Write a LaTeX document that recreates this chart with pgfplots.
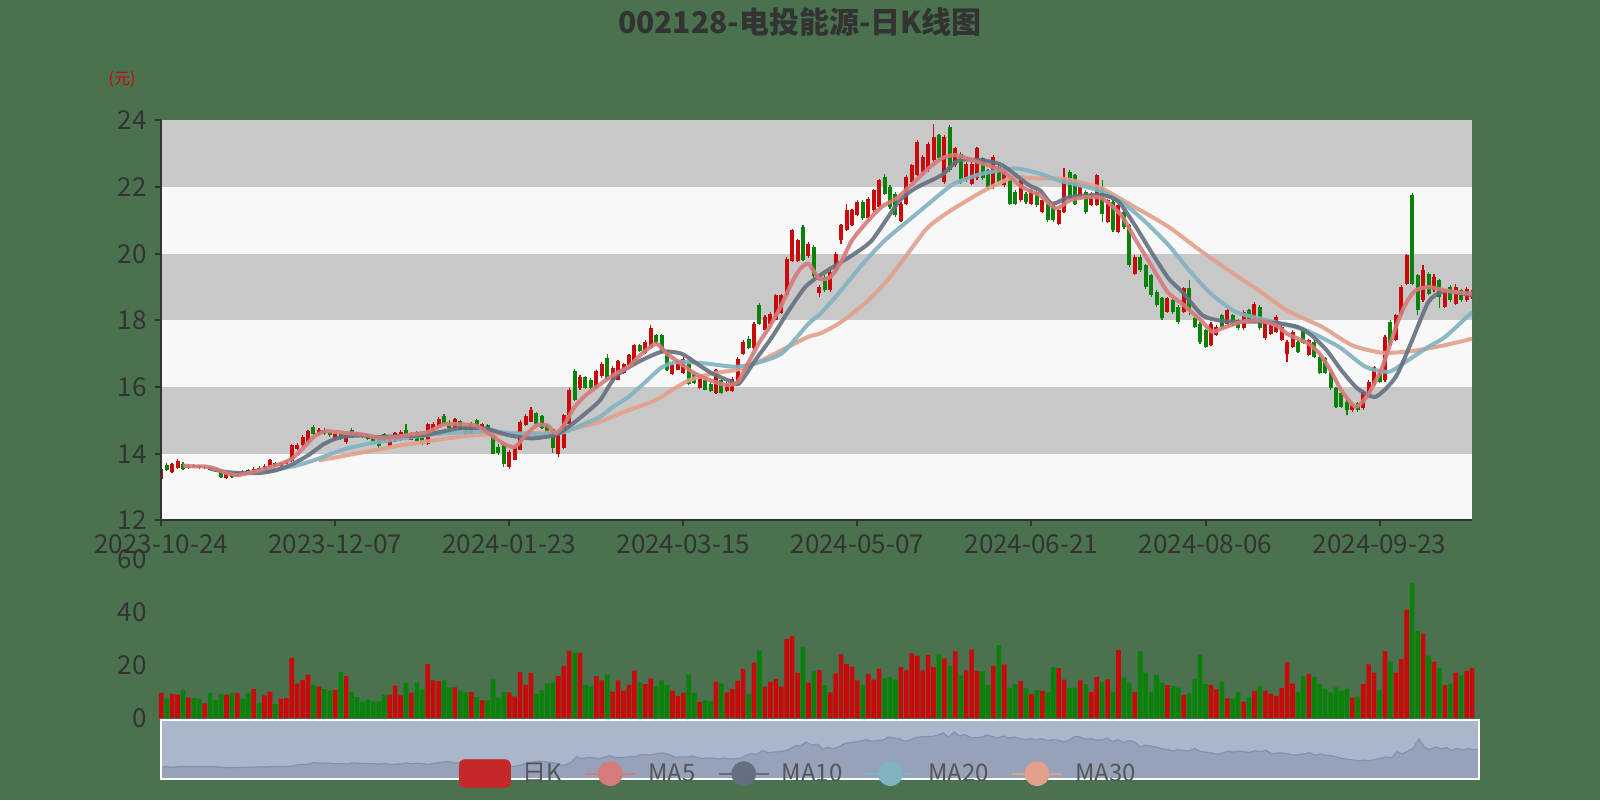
\documentclass[border=0pt]{standalone}
\usepackage{pgfplots}
\pgfplotsset{compat=1.18}
\usepackage{pgfplotstable}
\usepackage{fontspec}
\setmainfont{Noto Sans CJK SC}
\definecolor{bgc}{RGB}{74,114,78}
\definecolor{bandg}{RGB}{200,200,200}
\definecolor{bandw}{RGB}{248,248,248}
\definecolor{upc}{RGB}{200,10,10}
\definecolor{dnc}{RGB}{10,130,10}
\definecolor{ma5c}{RGB}{214,122,122}
\definecolor{ma10c}{RGB}{100,112,128}
\definecolor{ma20c}{RGB}{128,178,192}
\definecolor{ma30c}{RGB}{226,160,138}
\definecolor{txtc}{RGB}{51,51,51}
\definecolor{legtxt}{RGB}{85,85,85}
\definecolor{sldbg}{RGB}{170,182,204}
\definecolor{sldarea}{RGB}{150,162,186}
\definecolor{sldline}{RGB}{132,145,170}
\definecolor{legred}{RGB}{196,40,40}

\pgfplotstableread{
i o c h l v
0 13.25 13.55 13.62 13.12 9.5
1 13.67 13.52 13.72 13.48 7.3
2 13.45 13.68 13.72 13.42 9.1
3 13.57 13.79 13.84 13.55 8.8
4 13.70 13.55 13.74 13.52 10.6
5 13.58 13.63 13.68 13.55 7.7
6 13.65 13.60 13.70 13.57 7.5
7 13.62 13.58 13.66 13.55 7.3
8 13.56 13.60 13.64 13.53 5.5
9 13.60 13.52 13.63 13.50 9.5
10 13.55 13.50 13.58 13.46 6.7
11 13.50 13.30 13.52 13.26 9.1
12 13.28 13.40 13.44 13.24 8.8
13 13.42 13.30 13.45 13.27 9.5
14 13.32 13.45 13.48 13.30 9.5
15 13.45 13.38 13.50 13.35 7.3
16 13.50 13.40 13.53 13.37 9.5
17 13.42 13.55 13.60 13.40 10.9
18 13.58 13.50 13.62 13.47 5.5
19 13.52 13.62 13.68 13.50 8.5
20 13.60 13.80 13.84 13.58 10.0
21 13.72 13.64 13.75 13.60 5.2
22 13.62 13.72 13.76 13.60 7.3
23 13.70 13.78 13.82 13.68 7.5
24 13.78 14.25 14.30 13.75 22.7
25 14.15 14.25 14.32 14.10 13.0
26 14.25 14.50 14.55 14.20 14.3
27 14.35 14.68 14.72 14.32 16.4
28 14.80 14.60 14.85 14.57 12.4
29 14.60 14.70 14.76 14.55 11.8
30 14.72 14.58 14.78 14.55 10.9
31 14.62 14.55 14.66 14.50 10.3
32 14.45 14.60 14.64 14.42 10.6
33 14.58 14.45 14.62 14.42 17.3
34 14.35 14.60 14.66 14.30 15.8
35 14.72 14.62 14.76 14.58 10.0
36 14.62 14.55 14.66 14.52 7.9
37 14.58 14.50 14.62 14.46 6.1
38 14.52 14.45 14.56 14.40 6.9
39 14.45 14.35 14.50 14.32 6.3
40 14.40 14.22 14.44 14.18 6.3
41 14.58 14.38 14.62 14.34 8.8
42 14.22 14.40 14.44 14.20 8.8
43 14.38 14.62 14.66 14.35 12.2
44 14.40 14.65 14.70 14.38 8.5
45 14.70 14.56 14.90 14.52 13.4
46 14.42 14.60 14.64 14.40 9.5
47 14.65 14.38 14.68 14.35 13.4
48 14.46 14.28 14.50 14.25 10.7
49 14.28 14.88 14.92 14.26 20.3
50 14.66 14.90 14.95 14.62 14.2
51 14.82 15.05 15.10 14.80 13.9
52 15.12 14.88 15.20 14.85 14.2
53 14.96 14.78 15.00 14.75 11.6
54 14.78 15.05 15.08 14.75 11.6
55 14.98 14.72 15.02 14.70 10.3
56 14.80 14.55 14.84 14.52 9.7
57 14.60 14.92 14.96 14.58 9.9
58 15.00 14.75 15.04 14.72 7.9
59 14.70 14.88 14.92 14.68 6.7
60 14.86 14.66 14.90 14.62 6.7
61 14.60 14.00 14.64 13.98 14.6
62 14.20 14.02 14.28 13.95 7.5
63 14.25 13.70 14.28 13.60 9.9
64 13.60 14.05 14.10 13.55 9.7
65 13.82 14.20 14.25 13.80 8.1
66 14.12 14.95 15.00 14.10 17.4
67 14.86 15.12 15.18 14.84 12.5
68 14.96 15.32 15.40 14.94 17.0
69 15.22 14.88 15.26 14.85 9.1
70 15.12 14.78 15.15 14.75 10.3
71 14.86 14.58 14.90 14.55 13.1
72 14.75 14.18 14.78 14.02 13.4
73 13.98 14.65 14.70 13.90 15.8
74 14.18 15.15 15.20 14.15 19.7
75 14.88 15.92 15.96 14.86 25.3
76 16.48 15.62 16.55 15.58 24.6
77 15.96 16.30 16.36 15.92 24.6
78 16.30 15.98 16.34 15.94 12.4
79 16.22 15.98 16.26 15.94 11.8
80 15.98 16.48 16.52 15.95 15.8
81 16.32 16.68 16.74 16.28 14.2
82 16.88 16.25 17.00 16.20 16.4
83 16.22 16.58 16.62 16.18 10.0
84 16.22 16.78 16.82 16.20 14.2
85 16.42 16.68 16.72 16.40 10.3
86 16.58 16.95 16.98 16.55 12.5
87 16.68 17.25 17.30 16.66 17.9
88 17.25 17.08 17.30 17.05 13.4
89 17.02 17.35 17.40 17.00 12.8
90 17.18 17.78 17.85 17.15 15.0
91 17.56 17.32 17.60 17.28 11.9
92 17.55 17.02 17.58 16.98 14.2
93 17.10 16.52 17.12 16.48 12.4
94 16.38 16.70 16.74 16.35 10.3
95 16.52 16.75 16.80 16.50 8.3
96 16.42 16.85 16.90 16.40 9.5
97 16.75 16.08 16.78 16.05 16.4
98 16.40 16.12 16.45 16.10 9.5
99 15.98 16.30 16.34 15.95 6.1
100 16.20 15.92 16.24 15.90 6.7
101 16.10 15.88 16.14 15.85 6.3
102 15.82 16.50 16.55 15.80 13.7
103 16.20 15.82 16.24 15.80 13.1
104 15.88 16.10 16.14 15.85 9.7
105 15.88 16.25 16.30 15.85 10.9
106 16.06 16.85 16.90 16.04 14.0
107 16.98 17.35 17.40 16.95 18.5
108 17.45 17.18 17.52 17.15 9.1
109 17.18 17.90 17.95 17.15 20.9
110 18.45 17.88 18.52 17.85 25.3
111 17.72 18.10 18.15 17.70 11.8
112 17.88 18.20 18.25 17.85 13.6
113 18.02 18.75 18.80 18.00 14.8
114 18.22 18.75 18.80 18.20 11.8
115 18.76 19.85 19.90 18.74 29.8
116 19.78 20.70 20.75 19.74 31.0
117 19.78 20.40 20.45 19.75 17.0
118 20.80 19.82 20.85 19.78 26.8
119 19.92 20.30 20.35 19.88 13.4
120 20.20 19.32 20.25 19.28 17.9
121 18.82 19.00 19.05 18.70 18.2
122 19.30 18.90 19.35 18.85 12.4
123 18.90 19.45 19.50 18.85 9.7
124 19.50 20.00 20.05 19.45 16.8
125 20.42 20.85 20.90 20.30 24.0
126 20.72 21.30 21.50 20.68 20.4
127 20.86 21.30 21.35 20.82 19.4
128 21.16 21.55 21.60 21.12 14.2
129 21.56 21.06 21.60 21.02 12.4
130 21.06 21.65 21.70 21.02 16.7
131 21.30 21.90 21.95 21.25 14.5
132 21.40 22.20 22.25 21.35 18.6
133 22.30 21.80 22.40 21.75 14.9
134 22.00 21.40 22.05 21.35 15.5
135 21.80 21.16 21.85 21.10 14.5
136 20.98 21.50 21.55 20.95 19.2
137 21.50 22.30 22.35 21.45 18.0
138 22.16 22.65 22.70 22.12 24.4
139 22.36 23.36 23.40 22.32 23.5
140 22.46 22.90 22.95 22.40 18.0
141 22.50 23.30 23.35 22.45 23.8
142 22.80 23.50 23.88 22.70 19.2
143 23.56 22.86 23.60 22.80 24.1
144 22.16 23.50 23.55 22.10 22.5
145 23.80 22.50 23.85 22.45 19.6
146 22.66 23.16 23.20 22.60 25.1
147 23.00 22.16 23.05 22.10 16.1
148 22.20 22.70 22.75 22.15 18.0
149 22.10 22.70 22.75 22.05 25.8
150 22.26 23.16 23.20 22.22 17.7
151 22.86 22.26 22.90 22.20 17.7
152 22.50 22.00 22.55 21.95 12.4
153 22.00 22.90 22.95 21.95 19.8
154 22.60 22.16 22.65 22.10 27.5
155 22.06 22.46 22.50 22.00 20.2
156 22.30 21.50 22.35 21.45 11.4
157 21.86 21.50 21.90 21.45 12.8
158 21.60 22.20 22.25 21.55 14.0
159 21.80 21.56 21.85 21.50 11.4
160 21.50 21.90 21.95 21.45 9.0
161 21.86 21.46 21.90 21.40 10.5
162 21.26 21.60 21.65 21.22 10.2
163 21.50 21.00 21.55 20.95 9.7
164 21.45 21.00 21.50 20.95 19.2
165 20.90 21.30 21.35 20.85 18.8
166 21.26 22.30 22.56 21.22 14.5
167 22.46 21.66 22.50 21.60 11.4
168 22.36 21.50 22.40 21.45 11.4
169 21.66 22.00 22.05 21.62 14.2
170 21.86 21.26 21.90 21.20 12.8
171 21.46 21.80 21.85 21.42 9.9
172 21.46 22.36 22.40 21.42 15.4
173 22.00 21.20 22.20 20.96 13.5
174 20.96 21.60 21.65 20.92 14.6
175 21.56 20.70 21.60 20.65 9.9
176 20.66 21.46 21.50 20.62 25.6
177 21.26 20.80 21.30 20.75 15.2
178 20.86 19.66 20.90 19.60 13.4
179 19.40 19.90 19.95 19.35 9.9
180 19.90 19.50 19.95 19.45 25.1
181 19.66 19.00 19.70 18.95 17.1
182 19.36 18.76 19.40 18.70 9.9
183 18.86 18.46 18.90 18.40 16.3
184 18.66 18.06 18.70 18.00 13.4
185 18.26 18.66 18.70 18.22 12.4
186 18.60 18.26 18.65 18.20 12.1
187 18.40 17.96 18.45 17.90 11.5
188 18.26 18.96 19.00 18.22 8.7
189 18.96 18.30 19.20 18.16 9.3
190 18.06 17.81 18.10 17.76 14.9
191 17.90 17.36 17.95 17.30 23.8
192 17.70 17.20 17.75 17.16 12.8
193 17.26 17.90 17.95 17.22 12.4
194 17.56 17.80 17.85 17.52 10.8
195 18.16 17.80 18.20 17.75 13.6
196 17.90 18.30 18.35 17.85 7.4
197 18.16 17.86 18.20 17.82 7.4
198 18.00 17.76 18.05 17.72 9.9
199 17.76 18.26 18.30 17.72 6.2
200 18.30 17.96 18.35 17.92 7.8
201 18.00 18.50 18.55 17.96 10.2
202 18.40 17.76 18.45 17.72 12.1
203 17.46 17.90 17.95 17.42 10.3
204 17.60 17.86 17.90 17.56 9.2
205 17.66 18.10 18.15 17.62 8.4
206 17.41 17.81 17.85 17.38 11.4
207 17.00 17.36 17.40 16.76 21.0
208 17.21 17.66 17.70 17.18 13.0
209 17.36 17.06 17.40 17.02 9.9
210 17.71 17.31 17.75 17.28 15.7
211 16.96 17.41 17.45 16.92 16.7
212 17.36 16.91 17.40 16.88 15.5
213 16.91 16.41 16.95 16.38 12.8
214 16.86 16.41 16.90 16.38 11.1
215 16.46 15.96 16.50 15.92 9.7
216 15.96 15.41 16.00 15.38 11.6
217 15.81 15.41 15.85 15.36 10.3
218 15.56 15.31 15.60 15.15 11.1
219 15.31 15.46 15.50 15.26 7.7
220 15.51 15.31 15.55 15.26 8.1
221 15.36 15.86 15.90 15.32 12.8
222 15.71 16.16 16.20 15.66 20.2
223 16.06 16.60 16.64 16.02 17.1
224 16.46 16.16 16.50 16.12 10.5
225 16.20 17.50 17.55 16.16 25.1
226 17.96 17.26 18.00 17.22 21.3
227 17.41 18.16 18.20 17.38 17.1
228 18.16 19.00 19.05 18.12 22.2
229 19.10 19.96 20.00 19.06 40.9
230 21.76 19.10 21.81 19.05 51.0
231 19.36 18.30 19.40 18.16 32.8
232 18.60 19.50 19.66 18.55 31.8
233 19.40 18.80 19.45 18.75 23.5
234 18.90 19.30 19.40 18.85 21.3
235 19.20 18.70 19.25 18.36 18.8
236 18.40 18.90 18.95 18.36 12.4
237 19.00 18.60 19.05 18.55 13.0
238 18.50 19.00 19.10 18.45 17.1
239 18.90 18.60 18.95 18.55 16.1
240 18.60 18.95 19.00 18.55 17.7
241 18.70 18.86 18.90 18.65 18.9
}\kdata

\pgfplotsset{candle/.style={only marks, mark=*, forget plot,
  mark options={draw opacity=0, fill opacity=0, scale=0.01},
  error bars/y dir=plus, error bars/y explicit, error bars/error mark=none}}

\begin{document}
\begin{tikzpicture}
\fill[bgc] (0pt,0pt) rectangle (800pt,-400pt);
\node[font=\bfseries\fontsize{15pt}{18pt}\selectfont, text=txtc] at (400pt,-11.25pt) {002128-电投能源-日K线图};
\node[font=\fontsize{8pt}{9pt}\selectfont, text=upc] at (61pt,-40pt) {(元)};

% ---------------- main candlestick axis
\begin{axis}[
  at={(80.6pt,-260.2pt)}, anchor=south west,
  width=655.4pt, height=200pt, scale only axis,
  xmin=0, xmax=241, ymin=12, ymax=24,
  axis on top,
  axis x line*=bottom, axis y line*=left,
  axis line style={draw=txtc, line width=1pt},
  xtick={0,32,64,96,128,160,192,224},
  xticklabels={2023-10-24,2023-12-07,2024-01-23,2024-03-15,2024-05-07,2024-06-21,2024-08-06,2024-09-23},
  ytick={12,14,16,18,20,22,24},
  tick align=outside, major tick length=3pt,
  tick style={draw=txtc, line width=1pt},
  tick label style={font=\fontsize{13pt}{15pt}\selectfont, text=txtc},
  yticklabel style={inner sep=0pt, xshift=-4pt},
  xticklabel style={inner sep=0pt, yshift=-4pt},
  /pgf/number format/assume math mode=true,
]
\fill[bandw] (axis cs:0,12) rectangle (axis cs:241,14);
\fill[bandg] (axis cs:0,14) rectangle (axis cs:241,16);
\fill[bandw] (axis cs:0,16) rectangle (axis cs:241,18);
\fill[bandg] (axis cs:0,18) rectangle (axis cs:241,20);
\fill[bandw] (axis cs:0,20) rectangle (axis cs:241,22);
\fill[bandg] (axis cs:0,22) rectangle (axis cs:241,24);

% wicks
\addplot[candle, error bars/error bar style={draw=upc, line width=0.6pt}]
  table[x=i, y expr={\thisrow{c}>=\thisrow{o} ? \thisrow{l} : nan},
        y error plus expr={\thisrow{h}-\thisrow{l}}] {\kdata};
\addplot[candle, error bars/error bar style={draw=dnc, line width=0.6pt}]
  table[x=i, y expr={\thisrow{c}<\thisrow{o} ? \thisrow{l} : nan},
        y error plus expr={\thisrow{h}-\thisrow{l}}] {\kdata};
% bodies
\addplot[candle, error bars/error bar style={draw=upc, line width=2pt}]
  table[x=i, y expr={\thisrow{c}>=\thisrow{o} ? \thisrow{o} : nan},
        y error plus expr={max(\thisrow{c}-\thisrow{o},0.03)}] {\kdata};
\addplot[candle, error bars/error bar style={draw=dnc, line width=2pt}]
  table[x=i, y expr={\thisrow{c}<\thisrow{o} ? \thisrow{c} : nan},
        y error plus expr={\thisrow{o}-\thisrow{c}}] {\kdata};

% moving averages
\addplot[ma30c, line width=2pt, opacity=0.9, smooth, tension=0.4] coordinates {
(29,13.8) (33,13.92) (39.3,14.11) (44,14.25) (48.5,14.36) (53,14.47) (57.7,14.56) (62,14.59) (66.9,14.61) (73.6,14.66) (77,14.8) (80.7,14.96) (85,15.25) (90.8,15.6) (94,15.92) (97,16.2) (101.3,16.41) (105.5,16.51) (109.2,16.71) (114.1,17.11) (119,17.51) (121.2,17.61) (125,17.95) (130,18.6) (134,19.3) (138.6,20.3) (141,20.8) (144.8,21.26) (150.9,21.86) (154.6,22.16) (157,22.3) (161,22.26) (166,22.25) (170,22.1) (173,21.96) (179,21.4) (185.2,20.81) (191,20.1) (197.5,19.36) (201.5,18.93) (207,18.3) (213.5,17.8) (219,17.25) (224.5,17.03) (230,17.08) (236.1,17.26) (241,17.45)};
\addplot[ma20c, line width=2pt, opacity=0.9, smooth, tension=0.4] coordinates {
(19,13.45) (22,13.55) (25,13.65) (28,13.8) (31,13.98) (34,14.15) (38,14.3) (42,14.4) (46,14.5) (50,14.58) (54,14.63) (57.7,14.66) (61,14.68) (65,14.61) (73,14.61) (77.3,14.86) (80.7,15.11) (83,15.4) (85.9,15.7) (89,16.15) (92.1,16.6) (95.1,16.76) (100,16.71) (105.5,16.61) (109.2,16.71) (114.1,17.01) (119,17.9) (121.2,18.2) (125,18.9) (129,19.7) (133.1,20.41) (138.6,21.16) (144.8,22.0) (146.6,22.16) (150.9,22.4) (157,22.56) (161.6,22.4) (165,22.2) (169,22.05) (173,21.86) (177,21.5) (181,20.95) (185.2,20.26) (189,19.5) (193,18.8) (197.5,18.26) (202,18.06) (206,17.9) (210.4,17.71) (216.5,17.21) (221.4,16.61) (225.7,16.46) (228.8,16.76) (233,17.21) (236.1,17.51) (241,18.25)};
\addplot[ma10c, line width=2pt, opacity=0.9, smooth, tension=0.4] coordinates {
(9,13.55) (12,13.45) (15,13.42) (18,13.42) (21,13.5) (24,13.68) (27,13.95) (30,14.3) (33,14.5) (37,14.55) (39.3,14.5) (44,14.53) (48.5,14.56) (54.6,14.76) (59.5,14.76) (63.8,14.56) (68.1,14.46) (72.4,14.56) (74.9,14.81) (78,15.21) (80.7,15.61) (83.5,16.31) (87.2,16.71) (92,17.06) (95.7,17.0) (98.5,16.7) (101.3,16.41) (104.3,16.2) (106.2,16.1) (109.2,16.8) (112.3,17.5) (115.4,18.3) (118.4,19.0) (121.2,19.36) (124,19.65) (127,19.95) (130.7,20.41) (135.6,21.56) (138.6,21.96) (143.5,22.36) (146.6,22.8) (150.9,22.8) (154.6,22.66) (159.5,22.06) (161.6,21.9) (163.8,21.5) (167,21.7) (173,21.76) (176,21.56) (179,20.86) (182,20.06) (185.2,19.26) (187.7,18.86) (191.4,18.16) (194.4,18.0) (197.5,17.96) (202,17.96) (206,17.9) (209,17.8) (211.5,17.55) (214.3,17.1) (217,16.5) (220,15.95) (223.3,15.71) (227,16.31) (230,17.41) (233,18.56) (235.5,18.86) (238,18.85) (241,18.75)};
\addplot[ma5c, line width=2pt, opacity=0.9, smooth, tension=0.4] coordinates {
(4,13.65) (6,13.62) (8,13.62) (10,13.55) (12,13.42) (14,13.36) (16,13.42) (18,13.5) (20,13.6) (22,13.7) (24,13.85) (26,14.15) (28,14.5) (30,14.67) (32,14.66) (34,14.62) (36,14.6) (38,14.55) (40,14.48) (43,14.5) (46,14.58) (49,14.65) (52,14.88) (55,14.88) (58,14.84) (61,14.52) (63,14.3) (65,14.2) (67,14.55) (69,14.85) (71,14.85) (72.5,14.62) (74,14.85) (76,15.4) (78,15.75) (80,16.0) (83,16.35) (86,16.62) (88,16.95) (91,17.3) (93,17.0) (96,16.65) (98,16.42) (101,16.2) (104,16.06) (106,16.16) (108,16.75) (110,17.35) (112,17.85) (114,18.45) (116,19.15) (117.5,19.55) (119,19.7) (121,19.25) (123,19.3) (125,19.75) (127,20.4) (130,21.0) (132.5,21.41) (135.5,21.7) (138.5,22.16) (141,22.55) (143.5,22.86) (146,22.96) (150,22.76) (154.5,22.5) (158.3,22.0) (161.5,21.76) (164.5,21.36) (167,21.6) (170,21.7) (173,21.66) (176.5,21.16) (179,20.46) (182,19.66) (185,18.86) (188,18.46) (191.4,17.96) (193.2,17.66) (195,17.76) (198.7,17.96) (202,18.0) (205,17.85) (207,17.6) (209,17.45) (211,17.3) (213,17.0) (215,16.5) (217,15.9) (219.6,15.41) (222,15.8) (224.5,16.6) (227,17.8) (228.8,18.5) (230.6,18.9) (233,19.0) (236,18.9) (238,18.85) (241,18.8)};
\end{axis}

% ---------------- volume axis
\begin{axis}[
  at={(80.6pt,-359pt)}, anchor=south west,
  width=655.4pt, height=79.5pt, scale only axis,
  xmin=0, xmax=241, ymin=0, ymax=60, clip=false,
  axis line style={draw=none},
  xtick=\empty, ytick={0,20,40,60}, ytick pos=left,
  major tick length=0pt,
  tick label style={font=\fontsize{13pt}{15pt}\selectfont, text=txtc},
  yticklabel style={inner sep=0pt, xshift=-7pt},
  /pgf/number format/assume math mode=true,
]
\addplot[ybar, bar width=0.85, bar shift=0pt, fill=upc, draw=none]
  table[x=i, y expr={\thisrow{c}>=\thisrow{o} ? \thisrow{v} : nan}] {\kdata};
\addplot[ybar, bar width=0.85, bar shift=0pt, fill=dnc, draw=none]
  table[x=i, y expr={\thisrow{c}<\thisrow{o} ? \thisrow{v} : nan}] {\kdata};
\end{axis}

% ---------------- slider with data shadow and legend
\begin{axis}[
  at={(80.5pt,-389.5pt)}, anchor=south west,
  width=659pt, height=29.5pt, scale only axis,
  xmin=0, xmax=241, ymin=10, ymax=27.3,
  xtick=\empty, ytick=\empty, axis on top,
  axis background/.style={fill=sldbg},
  axis line style={draw=white, line width=1.2pt},
  legend columns=5,
  legend style={at={(0.2261,0.09)}, anchor=west, draw=none, fill=none,
    inner sep=0pt, outer sep=0pt,
    nodes={inner sep=0pt, text=legtxt},
    font=\fontsize{12pt}{14pt}\selectfont,
    /tikz/every odd column/.append style={column sep=6pt},
    /tikz/every even column/.append style={column sep=11pt}},
]
\addplot[fill=sldarea, draw=none, forget plot] table[x=i, y=o] {\kdata} \closedcycle;
\addplot[sldline, line width=0.6pt, forget plot] table[x=i, y=o] {\kdata};
\addlegendimage{legend image code/.code={\fill[legred, rounded corners=2.5pt] (0pt,-7pt) rectangle (25.5pt,7pt);}}
\addlegendentry{日K}
\addlegendimage{legend image code/.code={\draw[ma5c, line width=1pt] (0pt,0pt) -- (25pt,0pt); \fill[ma5c] (12.5pt,0pt) circle (6pt);}}
\addlegendentry{MA5}
\addlegendimage{legend image code/.code={\draw[ma10c, line width=1pt] (0pt,0pt) -- (25pt,0pt); \fill[ma10c] (12.5pt,0pt) circle (6pt);}}
\addlegendentry{MA10}
\addlegendimage{legend image code/.code={\draw[ma20c, line width=1pt] (0pt,0pt) -- (25pt,0pt); \fill[ma20c] (12.5pt,0pt) circle (6pt);}}
\addlegendentry{MA20}
\addlegendimage{legend image code/.code={\draw[ma30c, line width=1pt] (0pt,0pt) -- (25pt,0pt); \fill[ma30c] (12.5pt,0pt) circle (6pt);}}
\addlegendentry{MA30}
\end{axis}

\pgfresetboundingbox
\path[use as bounding box] (0pt,0pt) rectangle (800pt,-400pt);
\end{tikzpicture}
\end{document}
